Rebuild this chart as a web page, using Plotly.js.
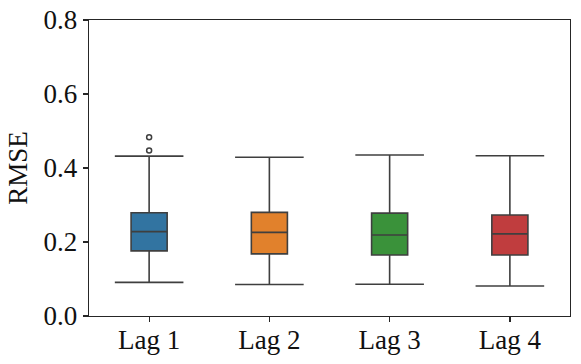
<!DOCTYPE html>
<html>
<head>
<meta charset="utf-8">
<script src="https://cdn.plot.ly/plotly-3.0.1.min.js"></script>
<style>
  html, body { margin: 0; padding: 0; background: #fff; }
  #chart { width: 581px; height: 364px; }
</style>
</head>
<body>
<div id="chart"></div>
<script>
// box statistics
const lags = ['Lag 1', 'Lag 2', 'Lag 3', 'Lag 4'];
const lowerWhisker = [0.091, 0.085, 0.086, 0.081];
const q1 = [0.176, 0.168, 0.165, 0.165];
const medians = [0.228, 0.226, 0.219, 0.222];
const q3 = [0.279, 0.280, 0.278, 0.273];
const upperWhisker = [0.432, 0.429, 0.435, 0.433];
const outlierLag = ['Lag 1', 'Lag 1'];
const outlierVals = [0.447, 0.483];
const colors = ['#3274a1', '#e1812c', '#3a923a', '#c03d3e'];

const edge = '#3f3f3f';
const serif = "'Liberation Serif', 'DejaVu Serif', serif";

const traces = lags.map((lag, i) => ({
  type: 'box',
  x: [lag],
  q1: [q1[i]],
  median: [medians[i]],
  q3: [q3[i]],
  lowerfence: [lowerWhisker[i]],
  upperfence: [upperWhisker[i]],
  fillcolor: colors[i],
  line: { color: edge, width: 1.6 },
  whiskerwidth: 0,
  width: 0.3,
  boxpoints: false,
  showlegend: false,
  hoverinfo: 'skip'
}));

// whisker caps
traces.push({
  type: 'scatter',
  mode: 'markers',
  x: lags.concat(lags),
  y: lowerWhisker.concat(upperWhisker),
  marker: { symbol: 'line-ew', size: 49, line: { color: edge, width: 1.6 } },
  showlegend: false,
  hoverinfo: 'skip'
});

// fliers
traces.push({
  type: 'scatter',
  mode: 'markers',
  x: outlierLag,
  y: outlierVals,
  marker: { symbol: 'circle-open', size: 5, line: { color: edge, width: 1.5 }, color: edge },
  showlegend: false,
  hoverinfo: 'skip'
});

const layout = {
  width: 581,
  height: 364,
  margin: { l: 89, r: 11, t: 20, b: 48 },
  paper_bgcolor: '#fff',
  plot_bgcolor: '#fff',
  font: { family: serif, size: 27, color: '#111' },
  showlegend: false,
  xaxis: {
    type: 'category',
    range: [-0.5, 3.5],
    showgrid: false,
    zeroline: false,
    showline: true,
    mirror: true,
    linecolor: '#262626',
    linewidth: 1.25,
    ticks: 'outside',
    ticklen: 5,
    tickwidth: 1.25,
    tickcolor: '#262626',
    tickfont: { family: serif, size: 27 },
    ticklabelstandoff: -6,
    fixedrange: true
  },
  yaxis: {
    range: [0, 0.8],
    tickvals: [0, 0.2, 0.4, 0.6, 0.8],
    ticktext: ['0.0', '0.2', '0.4', '0.6', '0.8'],
    showgrid: false,
    zeroline: false,
    showline: true,
    mirror: true,
    linecolor: '#262626',
    linewidth: 1.25,
    ticks: 'outside',
    ticklen: 5,
    tickwidth: 1.25,
    tickcolor: '#262626',
    tickfont: { family: serif, size: 27 },
    title: { text: 'RMSE', font: { family: serif, size: 27 }, standoff: 8 },
    fixedrange: true
  }
};

Plotly.newPlot('chart', traces, layout, { displayModeBar: false, staticPlot: true });
</script>
</body>
</html>
